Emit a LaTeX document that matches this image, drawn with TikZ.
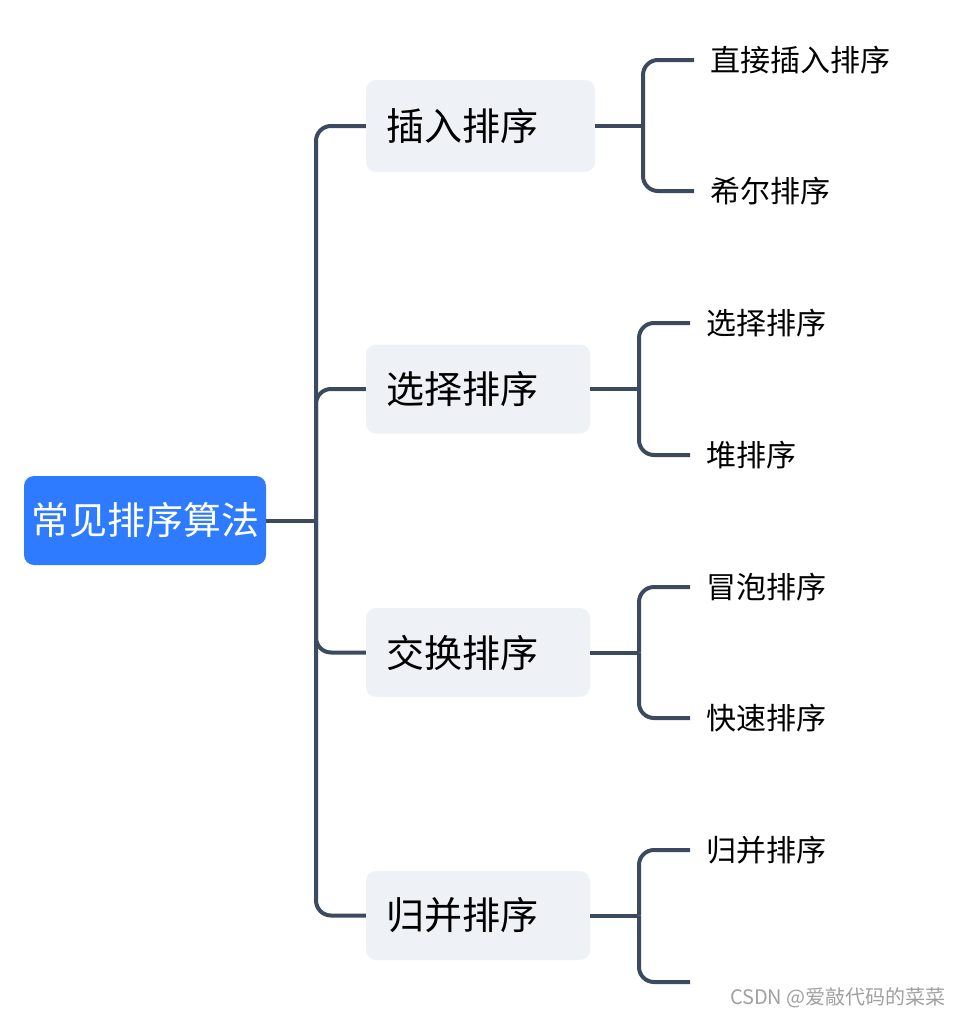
\documentclass[tikz,border=0pt]{standalone}
\usepackage{fontspec}
\setmainfont{Noto Sans CJK SC}
\definecolor{linec}{HTML}{3B4A5E}
\definecolor{rootblue}{HTML}{2F7BFF}
\definecolor{branchbg}{HTML}{EEF1F5}
\definecolor{wmgray}{HTML}{A0A0A0}
\begin{document}
\begin{tikzpicture}[x=1pt,y=-1pt,
  rootbox/.style={fill=rootblue, rounded corners=10pt, minimum width=242pt, minimum height=89pt, text=white, font=\fontsize{38}{40}\selectfont, inner sep=0pt},
  branchbox/.style={fill=branchbg, rounded corners=10pt, minimum height=89pt, inner xsep=20pt, inner ysep=0pt, align=left, font=\fontsize{38}{40}\selectfont},
  leaf/.style={anchor=west, inner xsep=16pt, inner ysep=0pt, font=\fontsize{30}{32}\selectfont},
  conn/.style={draw=linec, line width=4pt, rounded corners=15pt},
  wm/.style={font=\fontsize{20}{21}\selectfont, text=wmgray, anchor=east, inner sep=0pt}]
\useasboundingbox (0,0) rectangle (960,1017);

\node[rootbox] (root) at (145,520.5) {常见排序算法};

\node[branchbox, text width=189pt, minimum height=92pt] (b1) at (480.5,126) {插入排序};
\node[branchbox, text width=184pt] (b2) at (478,389) {选择排序};
\node[branchbox, text width=184pt] (b3) at (478,652.5) {交换排序};
\node[branchbox, text width=184pt] (b4) at (478,915.5) {归并排序};

\node[leaf] (l11) at (694,60) {直接插入排序};
\node[leaf] (l12) at (694,191) {希尔排序};
\node[leaf] (l21) at (690,323) {选择排序};
\node[leaf] (l22) at (690,455) {堆排序};
\node[leaf] (l31) at (690,587) {冒泡排序};
\node[leaf] (l32) at (690,718) {快速排序};
\node[leaf] (l41) at (690,850) {归并排序};
\coordinate (l42) at (690,982);

\coordinate (trunk) at (316,520.5);
\draw[conn] (root.east) -- (trunk);
\draw[conn] (trunk) |- (b1.west);
\draw[conn] (trunk) |- (b2.west);
\draw[conn] (trunk) |- (b3.west);
\draw[conn] (trunk) |- (b4.west);

\coordinate (s1) at (643,126);
\coordinate (s2) at (639,389);
\coordinate (s3) at (639,652.5);
\coordinate (s4) at (639,915.5);

\draw[conn] (b1.east) -- (s1);
\draw[conn] (s1) |- (l11.west);
\draw[conn] (s1) |- (l12.west);
\draw[conn] (b2.east) -- (s2);
\draw[conn] (s2) |- (l21.west);
\draw[conn] (s2) |- (l22.west);
\draw[conn] (b3.east) -- (s3);
\draw[conn] (s3) |- (l31.west);
\draw[conn] (s3) |- (l32.west);
\draw[conn] (b4.east) -- (s4);
\draw[conn] (s4) |- (l41.west);
\draw[conn] (s4) |- (l42);

\node[wm] (wmark) at (946,998) {CSDN @爱敲代码的菜菜};
\end{tikzpicture}
\end{document}
